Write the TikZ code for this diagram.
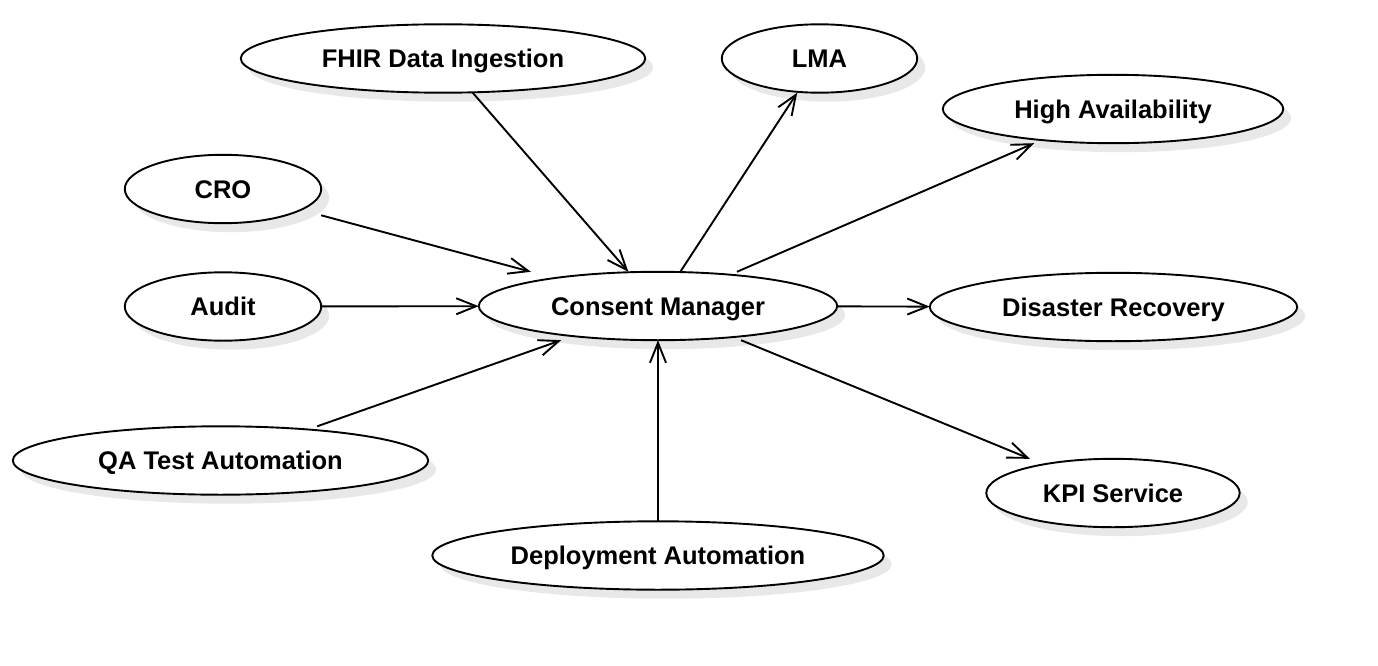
\documentclass[tikz,border=0pt]{standalone}
\usepackage{fontspec}
\setmainfont{Liberation Sans}
\usetikzlibrary{arrows.meta,backgrounds,shadows,calc}
\tikzset{
  usecase/.style={rectangle, inner sep=0pt, minimum width=#1,
    minimum height=68pt, text height=18.3pt, text depth=0pt,
    font=\bfseries\fontsize{25.5}{30}\selectfont},
  oval/.style={draw, line width=1.9pt, fill=white,
    drop shadow={shadow xshift=8pt, shadow yshift=-9pt,
                 fill=black!9, opacity=1}},
  conn/.style={line width=1.9pt,
    -{Straight Barb[length=20pt,width=16pt]}}
}
\begin{document}
\begin{tikzpicture}[x=1pt,y=-1pt]
  \useasboundingbox (0,0) rectangle (1378,666);
  % use cases
  \node[usecase=404pt] (fhir)  at (443,58.5)  {FHIR Data Ingestion};
  \node[usecase=195pt] (lma)   at (819.5,58.5) {LMA};
  \node[usecase=340pt] (ha)    at (1113,109)  {High Availability};
  \node[usecase=196pt] (cro)   at (223,189)   {CRO};
  \node[usecase=196pt] (audit) at (223,306.5) {Audit};
  \node[usecase=358pt] (cm)    at (658,306)   {Consent Manager};
  \node[usecase=367pt] (dr)    at (1113.5,307) {Disaster Recovery};
  \node[usecase=415pt] (qa)    at (220.5,460.5) {QA Test Automation};
  \node[usecase=253pt] (kpi)   at (1113,493)  {KPI Service};
  \node[usecase=451pt] (dep)   at (658,555.5) {Deployment Automation};
  % ovals behind the labels
  \begin{scope}[on background layer]
    \foreach \u in {fhir,lma,ha,cro,audit,cm,dr,qa,kpi,dep}
      \draw[oval] let \p1=(\u.north east), \p2=(\u.center) in
        (\p2) ellipse [x radius=\x1-\x2, y radius=\y1-\y2];
  \end{scope}
  % into the consent manager
  \draw[conn] (cro) -- (cm);
  \draw[conn] (audit) -- (cm);
  \draw[conn] (qa) -- (cm);
  \draw[conn] (fhir) -- (cm);
  \draw[conn] (dep) -- (cm);
  % out of the consent manager
  \draw[conn] (cm) -- (lma);
  \draw[conn] (cm) -- (ha);
  \draw[conn] (cm) -- (dr);
  \draw[conn] (cm) -- (kpi);
\end{tikzpicture}
\end{document}
